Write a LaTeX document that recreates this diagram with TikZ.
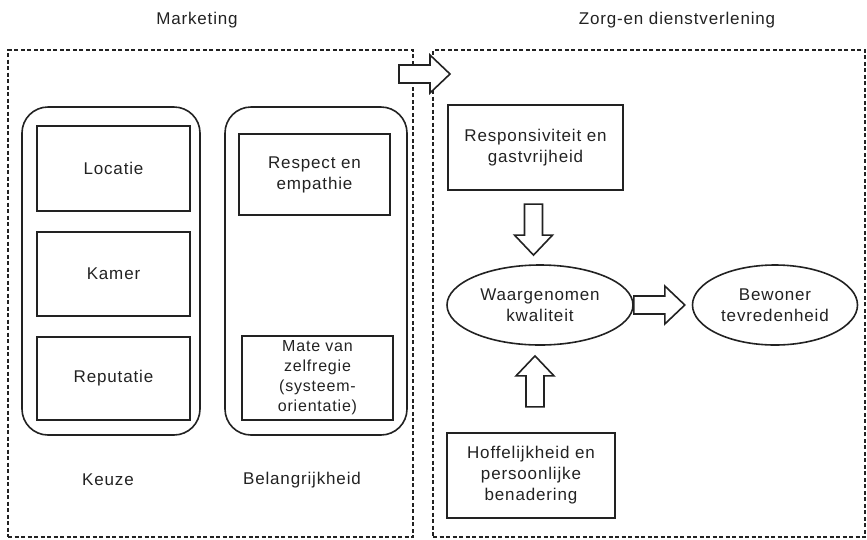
\documentclass[tikz,border=0pt]{standalone}
\usepackage{fontspec}
\setmainfont[LetterSpace=5]{Liberation Sans}
\usetikzlibrary{calc,shapes.geometric}
\definecolor{ink}{HTML}{222222}
\begin{document}
\begin{tikzpicture}[x=1pt,y=-1pt,
  txt/.style={font=\fontsize{17}{21}\selectfont, text=ink, align=center, inner sep=0pt},
  outerbox/.style={draw=ink, line width=2pt, dash pattern=on 4pt off 2.5pt},
  container/.style={draw=ink, line width=1.6pt, rounded corners=26pt, inner sep=0pt},
  boxx/.style={draw=ink, line width=2.2pt, inner sep=2pt, txt},
  ell/.style={ellipse, draw=ink, line width=1.6pt, inner sep=0pt, txt},
  arrowline/.style={draw=ink, line width=1.6pt, fill=white, line join=miter},
  harrow/.pic={\path[arrowline] (0,-9) -- (31,-9) -- (31,-19) -- (51,0) -- (31,19) -- (31,9) -- (0,9) -- cycle;}
]
\useasboundingbox (0,0) rectangle (867,539);
% titles
\node[txt] (tm) at (197,20) {Marketing};
\node[txt] (tz) at (677,20) {Zorg-en dienstverlening};
% outer dashed boxes
\node[outerbox, minimum width=405, minimum height=487, inner sep=0pt] (left) at (210.5,293.5) {};
\node[outerbox, minimum width=432, minimum height=487, inner sep=0pt] (right) at (649,293.5) {};
% containers
\node[container, minimum width=178, minimum height=328] (ck) at (111,271) {};
\node[container, minimum width=182, minimum height=328] (cb) at (316,271) {};
% left boxes
\node[boxx, minimum width=153, minimum height=85] (loc) at (113.5,168.5) {Locatie};
\node[boxx, minimum width=153, minimum height=84] (kam) at (113.5,274) {Kamer};
\node[boxx, minimum width=153, minimum height=83] (rep) at (113.5,378.5) {Reputatie};
\node[boxx, minimum width=151, minimum height=81] (resp) at (314.5,174.5) {Respect en\\empathie};
\node[boxx, minimum width=151, minimum height=84, font=\fontsize{16}{20}\selectfont] (mate) at (317.5,378) {Mate van\\zelfregie\\(systeem-\\orientatie)};
\node[txt] (keuze) at (108,480) {Keuze};
\node[txt] (bel) at (302,480) {Belangrijkheid};
% right side
\node[boxx, minimum width=175, minimum height=85] (rg) at (535.5,147.5) {Responsiviteit en\\gastvrijheid};
\node[ell, minimum width=186, minimum height=80] (wk) at (540,305) {Waargenomen\\kwaliteit};
\node[ell, minimum width=165, minimum height=80] (bt) at (775,305) {Bewoner\\tevredenheid};
\node[boxx, minimum width=168, minimum height=85] (hp) at (531,475.5) {Hoffelijkheid en\\persoonlijke\\benadering};
% hollow arrows
\pic at ($(left.north east)+(-15,25)$) {harrow};
\pic[rotate=-90] at ($(rg.south)+(-2,13)$) {harrow};
\pic at ($(wk.east)+(0,0)$) {harrow};
\pic[rotate=90] at ($(hp.north)+(4,-25)$) {harrow};
\end{tikzpicture}
\end{document}
